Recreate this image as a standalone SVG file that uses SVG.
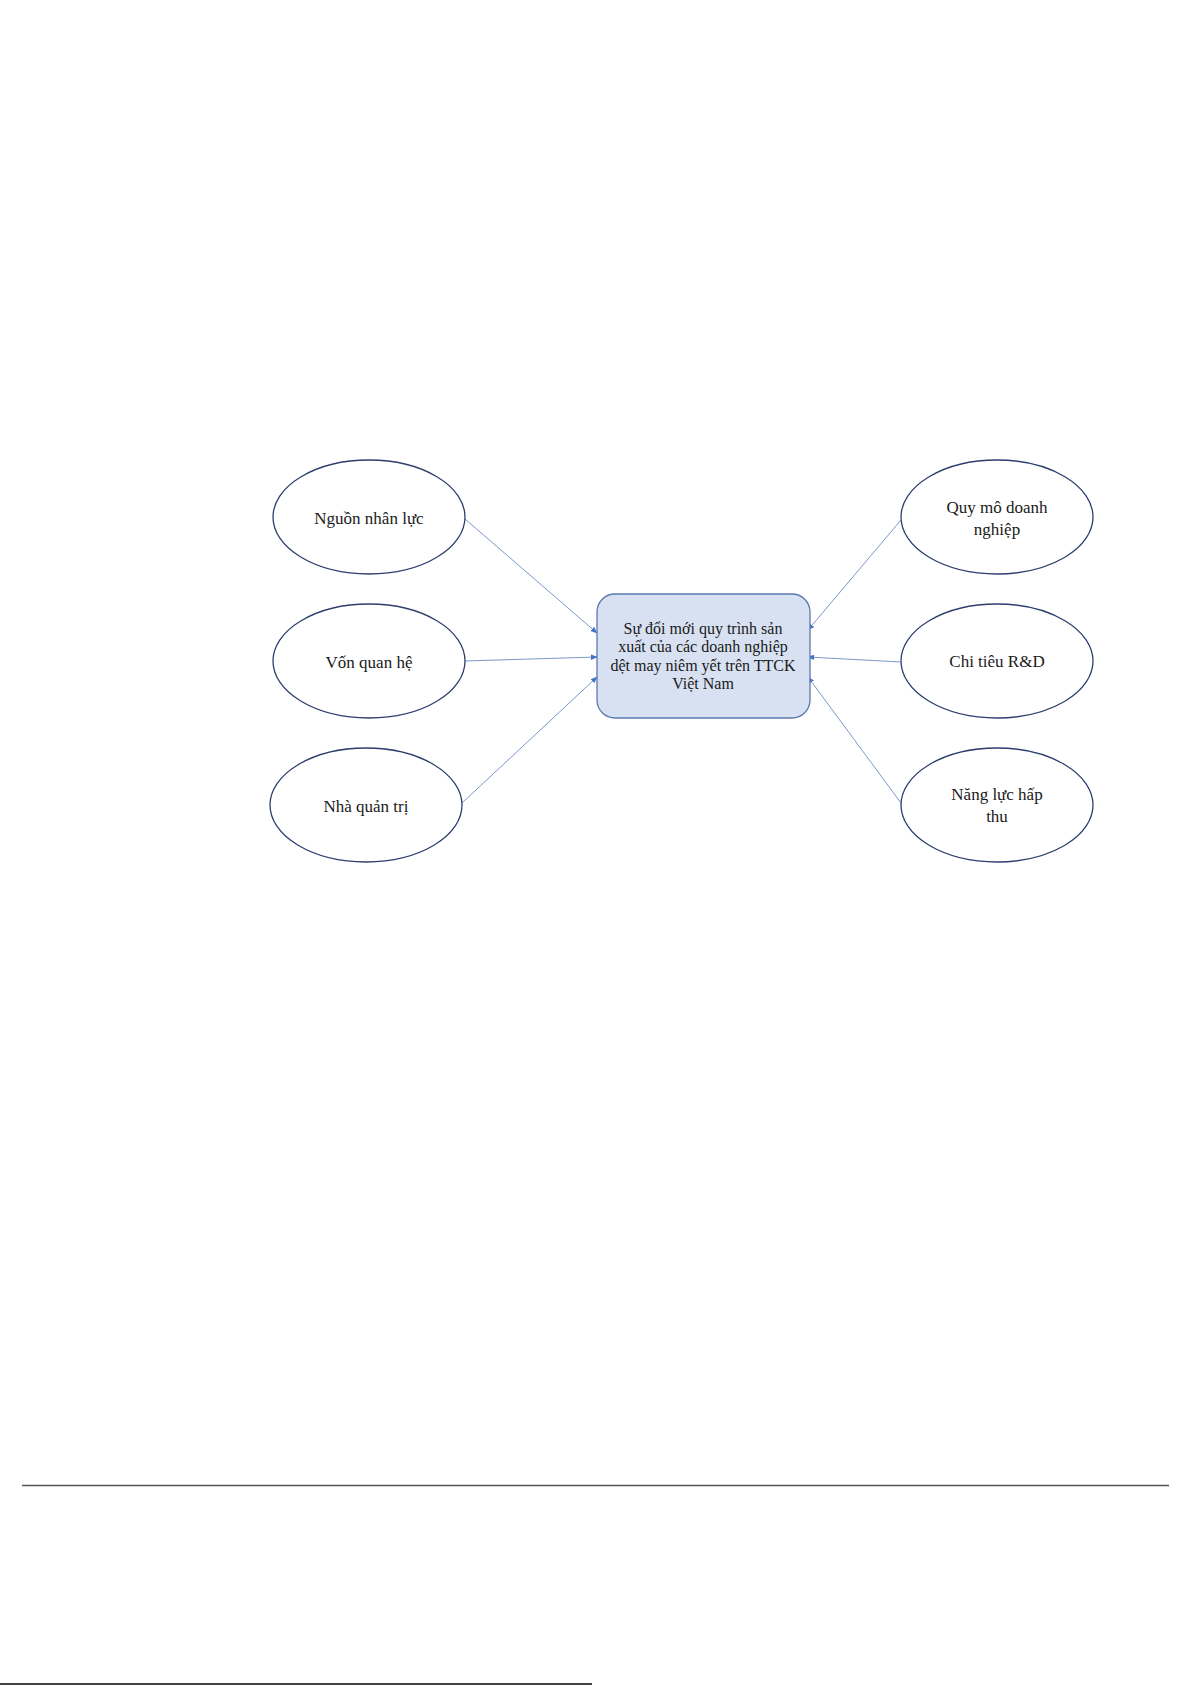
<svg xmlns="http://www.w3.org/2000/svg" width="1191" height="1685" viewBox="0 0 1191 1685">
<style>
.ell{fill:#ffffff;stroke:#2e3f6e;stroke-width:1.3}
.box{fill:#d8e1f2;stroke:#5b79b0;stroke-width:1.3}
.t{font-family:"Liberation Serif","Times New Roman",serif;fill:#1a1a1a;text-anchor:middle}
.tn{font-size:17px}
.tb{font-size:16px}
.con{stroke:#7b98cc;stroke-width:1;fill:none;marker-end:url(#ah)}
</style>
<defs>
<marker id="ah" viewBox="0 0 10 10" refX="9" refY="5" markerWidth="7" markerHeight="7" markerUnits="userSpaceOnUse" orient="auto">
<path d="M0,1 L10,5 L0,9 z" fill="#4472c4"/>
</marker>
</defs>
<rect width="1191" height="1685" fill="#ffffff"/>
<g id="connectors">
<line class="con" x1="465" y1="519" x2="597" y2="633"/>
<line class="con" x1="465" y1="661" x2="597" y2="657"/>
<line class="con" x1="462" y1="803" x2="597" y2="677"/>
<line class="con" x1="901" y1="520" x2="808" y2="630"/>
<line class="con" x1="901" y1="662" x2="808" y2="657"/>
<line class="con" x1="901" y1="803" x2="808" y2="677"/>
</g>
<g id="center">
<rect class="box" x="597" y="594" width="213" height="124" rx="18" ry="18"/>
<text class="t tb" x="703" y="634">Sự đổi mới quy trình sản</text>
<text class="t tb" x="703" y="652">xuất của các doanh nghiệp</text>
<text class="t tb" x="703" y="671">dệt may niêm yết trên TTCK</text>
<text class="t tb" x="703" y="689">Việt Nam</text>
</g>
<g id="n1">
<ellipse class="ell" cx="369" cy="517" rx="96" ry="57"/>
<text class="t tn" x="369" y="524">Nguồn nhân lực</text>
</g>
<g id="n2">
<ellipse class="ell" cx="369" cy="661" rx="96" ry="57"/>
<text class="t tn" x="369" y="668">Vốn quan hệ</text>
</g>
<g id="n3">
<ellipse class="ell" cx="366" cy="805" rx="96" ry="57"/>
<text class="t tn" x="366" y="812">Nhà quản trị</text>
</g>
<g id="n4">
<ellipse class="ell" cx="997" cy="517" rx="96" ry="57"/>
<text class="t tn" x="997" y="513">Quy mô doanh</text>
<text class="t tn" x="997" y="535">nghiệp</text>
</g>
<g id="n5">
<ellipse class="ell" cx="997" cy="661" rx="96" ry="57"/>
<text class="t tn" x="997" y="667">Chi tiêu R&amp;D</text>
</g>
<g id="n6">
<ellipse class="ell" cx="997" cy="805" rx="96" ry="57"/>
<text class="t tn" x="997" y="800">Năng lực hấp</text>
<text class="t tn" x="997" y="822">thu</text>
</g>
<line x1="22" y1="1485.5" x2="1169" y2="1485.5" stroke="#555555" stroke-width="1.3"/>
<line x1="0" y1="1684" x2="592" y2="1684" stroke="#000000" stroke-width="1.6"/>
</svg>
